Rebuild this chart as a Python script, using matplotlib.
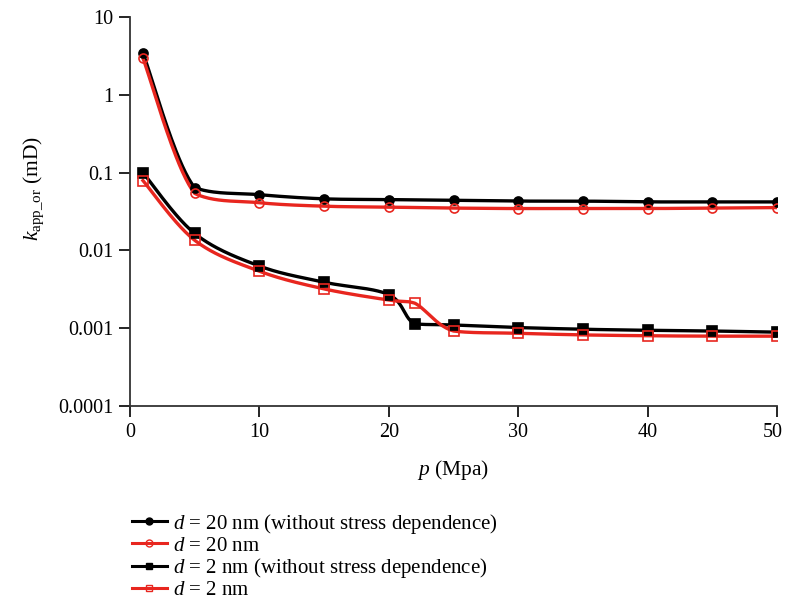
import numpy as np
import matplotlib
matplotlib.use("Agg")
import matplotlib.pyplot as plt
import matplotlib.transforms as mtransforms

# ---------------- data ----------------
x_d20 = [1, 5, 10, 15, 20, 25, 30, 35, 40, 45, 50]
k_d20_nostress = [3.45, 0.064, 0.052, 0.046, 0.045, 0.044, 0.043, 0.043, 0.042, 0.042, 0.042]
k_d20 = [2.95, 0.054, 0.041, 0.037, 0.036, 0.035, 0.0345, 0.0345, 0.0345, 0.035, 0.0355]

x_d2 = [1, 5, 10, 15, 20, 22, 25, 30, 35, 40, 45, 50]
k_d2_nostress = [0.100, 0.0165, 0.0063, 0.0039, 0.0027, 0.00114, 0.0011, 0.00102, 0.00097, 0.00094, 0.00092, 0.00089]
k_d2 = [0.079, 0.0135, 0.0054, 0.0032, 0.0023, 0.0021, 0.00092, 0.00086, 0.00082, 0.0008, 0.00079, 0.00079]

labels = [r"$d$ = 20 nm (without stress dependence)",
          r"$d$ = 20 nm",
          r"$d$ = 2 nm (without stress dependence)",
          r"$d$ = 2 nm"]

xticks = [0, 10, 20, 30, 40, 50]
yticks = [1e-4, 1e-3, 1e-2, 1e-1, 1, 10]
ytick_labels = ["0.0001", "0.001", "0.01", "0.1", "1", "10"]

# ---------------- style ----------------
plt.rcParams['font.family'] = ['Liberation Serif', 'DejaVu Serif']
plt.rcParams['mathtext.fontset'] = 'custom'
plt.rcParams['mathtext.rm'] = 'Liberation Serif'
plt.rcParams['mathtext.it'] = 'Liberation Serif:italic'

XS, YS = 12.94, 78.0  # approx. screen scale (px per x unit, px per decade)


def smooth_line(x, y, n=40):
    """Smoothed line through the points (Catmull-Rom Bezier with clamped handles), drawing only."""
    P = np.column_stack([np.asarray(x, float) * XS, np.log10(y) * YS])
    out = []
    m = len(P)
    for i in range(m - 1):
        p0 = P[i - 1] if i > 0 else P[i]
        p1, p2 = P[i], P[i + 1]
        p3 = P[i + 2] if i + 2 < m else P[i + 1]
        c1 = p1 + (p2 - p0) / 6.0
        c2 = p2 - (p3 - p1) / 6.0
        lo, hi = min(p1[1], p2[1]), max(p1[1], p2[1])
        c1[1] = np.clip(c1[1], lo, hi)
        c2[1] = np.clip(c2[1], lo, hi)
        t = np.linspace(0, 1, n)[:, None]
        seg = ((1 - t) ** 3) * p1 + 3 * ((1 - t) ** 2) * t * c1 + 3 * (1 - t) * t ** 2 * c2 + t ** 3 * p2
        out.append(seg if i == 0 else seg[1:])
    S = np.vstack(out)
    return S[:, 0] / XS, 10 ** (S[:, 1] / YS)


fig = plt.figure(figsize=(7.85, 6.14), dpi=100)
ax = fig.add_axes([130 / 785, 1 - 406 / 614, (777 - 130) / 785, (406 - 17) / 614])

series = [
    (x_d20, k_d20_nostress, 'black', 'o', 'black'),
    (x_d2, k_d2_nostress, 'black', 's', 'black'),
    (x_d20, k_d20, '#e8261f', 'o', 'none'),
    (x_d2, k_d2, '#e8261f', 's', 'none'),
]
order_labels = [labels[0], labels[2], labels[1], labels[3]]
handles = {}
for (xs, ys, col, mk, fc), lab in zip(series, order_labels):
    sx, sy = smooth_line(xs, ys)
    ax.plot(sx, sy, color=col, lw=2.4, zorder=2)
    ax.plot(xs, ys, ls='none', marker=mk, ms=6.5,
            mfc=fc, mec=col, mew=1.2, zorder=3)
    h, = ax.plot([], [], color=col, lw=2.2, marker=mk, ms=5, mfc=fc, mec=col, mew=1.0)
    handles[lab] = h

ax.set_yscale('log')
ax.set_xlim(0, 50)
ax.set_ylim(1e-4, 10)
ax.set_xticks(xticks)
ax.set_yticks(yticks)
ax.set_yticklabels(ytick_labels)
ax.yaxis.set_minor_locator(matplotlib.ticker.NullLocator())
ax.tick_params(axis='both', direction='out', length=8, width=1.2, labelsize=14.5, pad=4)
for s in ['top', 'right']:
    ax.spines[s].set_visible(False)
for s in ['left', 'bottom']:
    ax.spines[s].set_linewidth(1.3)
    ax.spines[s].set_color('#333333')

# nudge the last x tick label so it stays inside the canvas
last = ax.get_xticklabels()[-1]
last.set_transform(last.get_transform() + mtransforms.ScaledTranslation(-3 / 72, 0, fig.dpi_scale_trans))

ax.set_xlabel(r"$p$ (Mpa)", fontsize=15.5, labelpad=12)
ax.set_ylabel(r"$k_{\mathrm{app\_or}}$ (mD)", fontsize=15.5)
ax.yaxis.set_label_coords(-0.13, 0.56)

fig.legend([handles[l] for l in labels], labels, loc='upper left',
           bbox_to_anchor=(117 / 785, 1 - 497 / 614), frameon=False,
           fontsize=15, handlelength=1.7, handletextpad=0.3, labelspacing=0.02,
           borderpad=0.2)

fig.savefig('out.png', dpi=100)
